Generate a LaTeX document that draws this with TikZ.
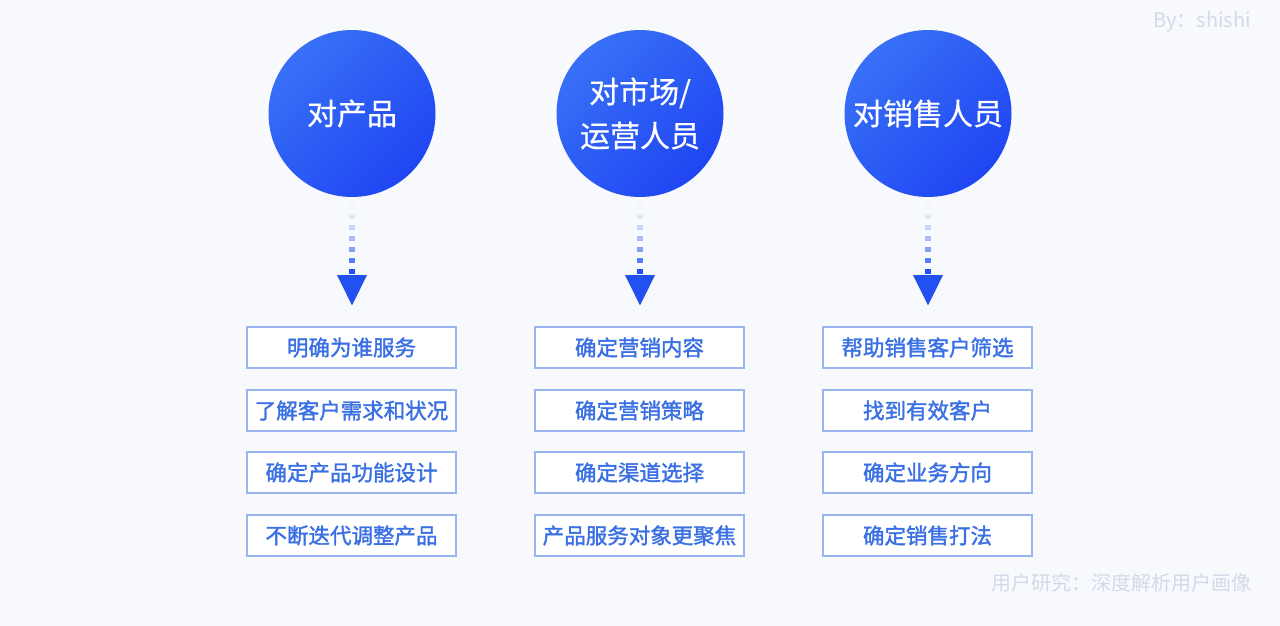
\documentclass[tikz,border=0pt]{standalone}
\usepackage{fontspec}
\setmainfont{Noto Sans CJK SC}
\newfontfamily\cjk{Noto Sans CJK SC}
\newfontfamily\cjkm[FakeBold=0.5]{Noto Sans CJK SC}
\newfontfamily\cjkb[FakeBold=1.6]{Noto Sans CJK SC}
\usetikzlibrary{shapes.geometric}
\definecolor{bgc}{HTML}{F7F9FD}
\definecolor{circA}{HTML}{3870F6}
\definecolor{circB}{HTML}{2046F3}
\definecolor{boxline}{HTML}{9BB5F2}
\definecolor{boxtext}{HTML}{3A70E4}
\definecolor{wm}{HTML}{D3D9E8}
\definecolor{arrowc}{HTML}{2350F0}
\tikzset{
  bigcirc/.style={circle, minimum size=167pt, inner sep=0pt, top color=circA, bottom color=circB, shading angle=45, text=white, font=\cjkm\fontsize{30}{44}\selectfont, align=center},
  itembox/.style={draw=boxline, line width=1.1pt, fill=white, minimum width=209pt, minimum height=41pt, inner sep=0pt, text=boxtext, font=\cjkb\fontsize{21.5}{24}\selectfont},
  tip/.style={isosceles triangle, isosceles triangle apex angle=53, shape border rotate=-90, fill=arrowc, inner sep=0pt, minimum height=30pt, minimum width=30pt},
  wmtext/.style={text=wm, font=\cjk\fontsize{20}{24}\selectfont, inner sep=0pt}
}
\begin{document}
\begin{tikzpicture}[x=1pt,y=-1pt]
\fill[bgc] (0,0) rectangle (1280,626);
\useasboundingbox (0,0) rectangle (1280,626);
\node[wmtext, anchor=east] (by) at (1251,22) {By：shishi};
\node[wmtext, anchor=east] (foot) at (1252,583) {用户研究：深度解析用户画像};
\foreach \n/\x/\t in {c1/352/对产品, c2/640/{对市场/\\运营人员}, c3/928/对销售人员}{
  \node[bigcirc] (\n) at (\x,113.5) {\t};
  \node[tip, anchor=north] (\n t) at (\x,275) {};
  \foreach \i/\c in {-1/5, 0/13, 1/24, 2/38, 3/55, 4/75, 5/100}{
    \fill[arrowc!\c!white] ([xshift=-2.6pt,yshift=-2.6pt]\n.south |- 0,{211.5+11*\i}) rectangle ++(5.2,5.2);
  }
}
\foreach \n/\x/\a/\b/\c/\d in {
  c1/351.5/明确为谁服务/了解客户需求和状况/确定产品功能设计/不断迭代调整产品,
  c2/639.5/确定营销内容/确定营销策略/确定渠道选择/产品服务对象更聚焦,
  c3/927.5/帮助销售客户筛选/找到有效客户/确定业务方向/确定销售打法}{
  \node[itembox] (\n b1) at (\x,347.5) {\a};
  \node[itembox] (\n b2) at (\x,410.5) {\b};
  \node[itembox] (\n b3) at (\x,472.5) {\c};
  \node[itembox] (\n b4) at (\x,535.5) {\d};
}
\end{tikzpicture}
\end{document}
